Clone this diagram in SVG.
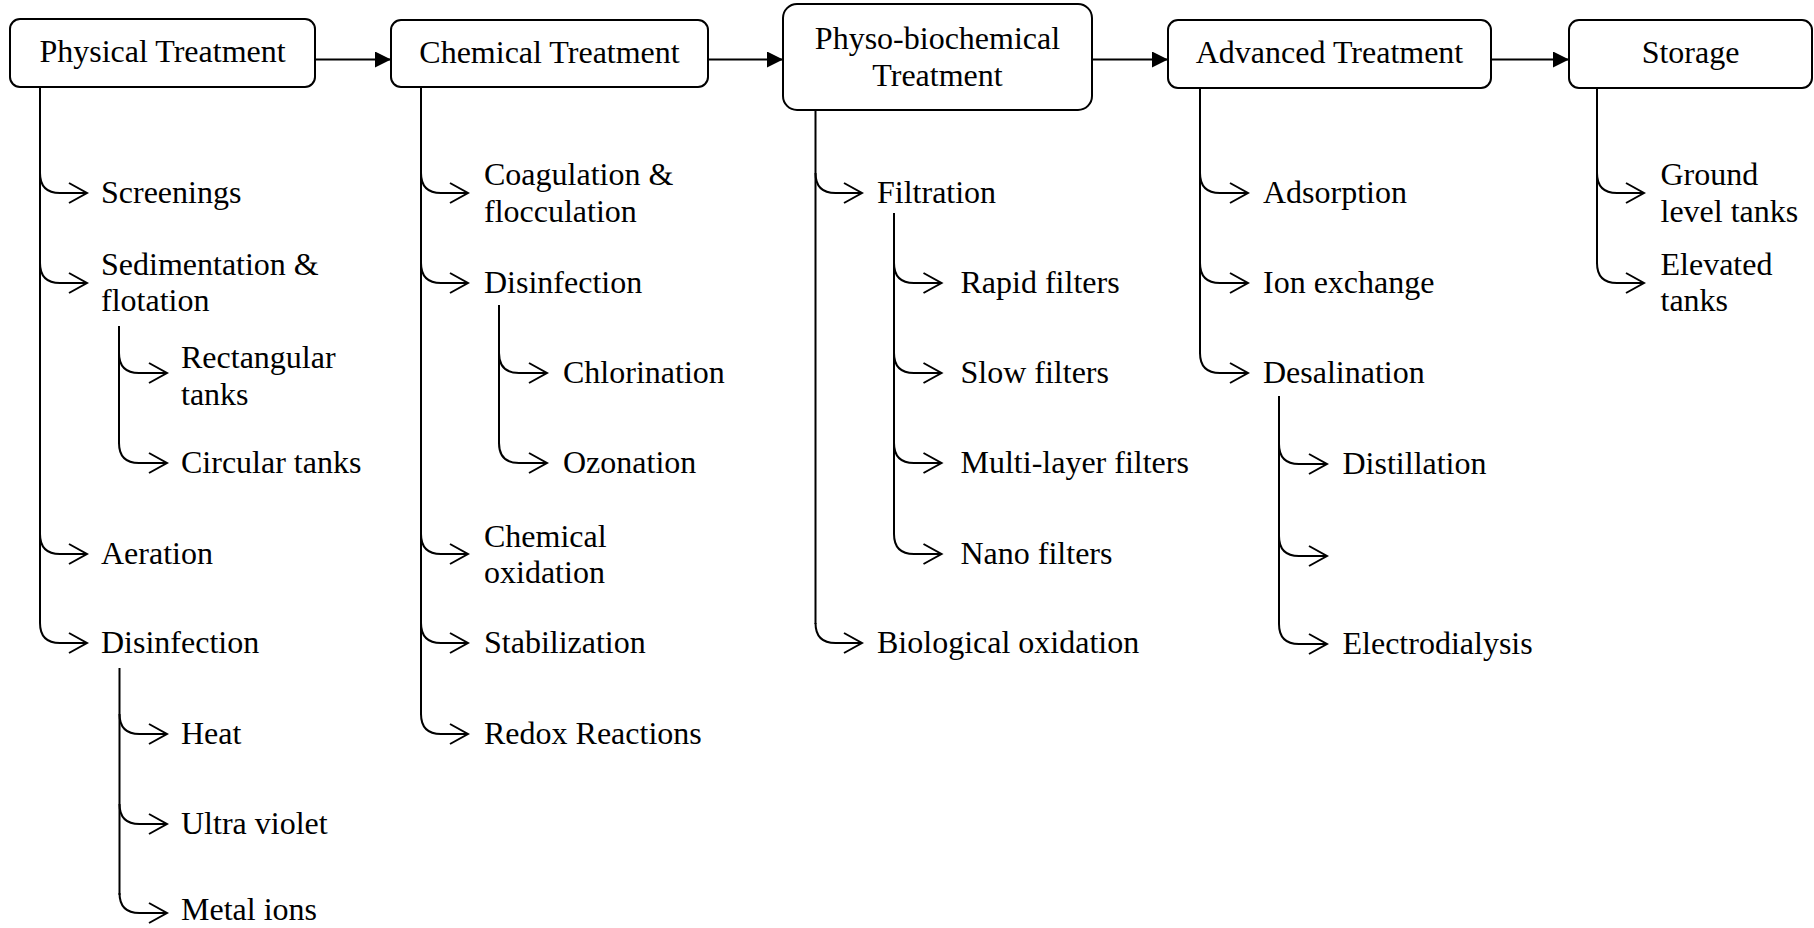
<svg xmlns="http://www.w3.org/2000/svg" width="1814" height="928" viewBox="0 0 1814 928">
<defs>
<style>
.box{fill:#fff;stroke:#000;stroke-width:2}
.t{font-family:"Liberation Serif","Times New Roman",serif;font-size:32px;fill:#000}
.c{text-anchor:middle}
.ln{fill:none;stroke:#000;stroke-width:2}
.br{fill:none;stroke:#000;stroke-width:2;marker-end:url(#open)}
.fl{fill:none;stroke:#000;stroke-width:2;marker-end:url(#solid)}
</style>
<marker id="open" markerUnits="userSpaceOnUse" markerWidth="22" markerHeight="24" refX="20" refY="12" orient="auto" viewBox="0 0 22 24">
<path d="M2,2 L20,12 L2,22" fill="none" stroke="#000" stroke-width="2"/>
</marker>
<marker id="solid" markerUnits="userSpaceOnUse" markerWidth="17" markerHeight="16" refX="16" refY="8" orient="auto" viewBox="0 0 17 16">
<path d="M0,0 L16,8 L0,16 Z" fill="#000"/>
</marker>
</defs>
<rect width="1814" height="928" fill="#fff"/>

<g id="connectors">
<line class="fl" x1="315" y1="59.5" x2="391" y2="59.5"/>
<line class="fl" x1="708" y1="59.5" x2="783" y2="59.5"/>
<line class="fl" x1="1092" y1="59.5" x2="1168" y2="59.5"/>
<line class="fl" x1="1491" y1="59.5" x2="1569" y2="59.5"/>

<!-- Physical -->
<line class="ln" x1="40" y1="87" x2="40" y2="623"/>
<path class="br" d="M40,173 C40,186 46,193 60,193 L87,193"/>
<path class="br" d="M40,263 C40,276 46,283 60,283 L87,283"/>
<path class="br" d="M40,534 C40,547 46,554 60,554 L87,554"/>
<path class="br" d="M40,623 C40,636 46,643 60,643 L87,643"/>
<line class="ln" x1="119" y1="326" x2="119" y2="444"/>
<path class="br" d="M119,353 C119,366 125,373 139,373 L167,373"/>
<path class="br" d="M119,443 C119,456 125,463 139,463 L167,463"/>
<line class="ln" x1="119.5" y1="668" x2="119.5" y2="895"/>
<path class="br" d="M119.5,714 C119.5,727 125.5,734 139.5,734 L167,734"/>
<path class="br" d="M119.5,804 C119.5,817 125.5,824 139.5,824 L167,824"/>
<path class="br" d="M119.5,893 C119.5,906 125.5,913 139.5,913 L167,913"/>

<!-- Chemical -->
<line class="ln" x1="421" y1="87" x2="421" y2="715"/>
<path class="br" d="M421,173 C421,186 427,193 441,193 L468,193"/>
<path class="br" d="M421,263 C421,276 427,283 441,283 L468,283"/>
<path class="br" d="M421,534 C421,547 427,554 441,554 L468,554"/>
<path class="br" d="M421,623 C421,636 427,643 441,643 L468,643"/>
<path class="br" d="M421,714 C421,727 427,734 441,734 L468,734"/>
<line class="ln" x1="499" y1="305" x2="499" y2="444"/>
<path class="br" d="M499,353 C499,366 505,373 519,373 L547,373"/>
<path class="br" d="M499,443 C499,456 505,463 519,463 L547,463"/>

<!-- Physo -->
<line class="ln" x1="815.5" y1="110" x2="815.5" y2="624"/>
<path class="br" d="M815.5,173 C815.5,186 821.5,193 835.5,193 L862,193"/>
<path class="br" d="M815.5,623 C815.5,636 821.5,643 835.5,643 L862,643"/>
<line class="ln" x1="894" y1="213" x2="894" y2="534"/>
<path class="br" d="M894,263 C894,276 900,283 914,283 L941.5,283"/>
<path class="br" d="M894,353 C894,366 900,373 914,373 L941.5,373"/>
<path class="br" d="M894,443 C894,456 900,463 914,463 L941.5,463"/>
<path class="br" d="M894,534 C894,547 900,554 914,554 L941.5,554"/>

<!-- Advanced -->
<line class="ln" x1="1200" y1="88" x2="1200" y2="354"/>
<path class="br" d="M1200,173 C1200,186 1206,193 1220,193 L1248,193"/>
<path class="br" d="M1200,263 C1200,276 1206,283 1220,283 L1248,283"/>
<path class="br" d="M1200,353 C1200,366 1206,373 1220,373 L1248,373"/>
<line class="ln" x1="1279" y1="396" x2="1279" y2="624"/>
<path class="br" d="M1279,444 C1279,457 1285,464 1299,464 L1327,464"/>
<path class="br" d="M1279,536 C1279,549 1285,556 1299,556 L1327,556"/>
<path class="br" d="M1279,624 C1279,637 1285,644 1299,644 L1327,644"/>

<!-- Storage -->
<line class="ln" x1="1597" y1="88" x2="1597" y2="264"/>
<path class="br" d="M1597,173 C1597,186 1603,193 1617,193 L1644,193"/>
<path class="br" d="M1597,263 C1597,276 1603,283 1617,283 L1644,283"/>
</g>

<g id="physical">
<rect class="box" x="10" y="19" width="305" height="68" rx="10"/>
<text class="t c" x="162.5" y="62">Physical Treatment</text>
</g>
<g id="chemical">
<rect class="box" x="391" y="20" width="317" height="67" rx="10"/>
<text class="t c" x="549.5" y="62.5">Chemical Treatment</text>
</g>
<g id="physo">
<rect class="box" x="783" y="4" width="309" height="106" rx="14"/>
<text class="t c" x="937.5" y="49">Physo-biochemical</text>
<text class="t c" x="937.5" y="86">Treatment</text>
</g>
<g id="advanced">
<rect class="box" x="1168" y="20" width="323" height="68" rx="10"/>
<text class="t c" x="1329.5" y="62.5">Advanced Treatment</text>
</g>
<g id="storage">
<rect class="box" x="1569" y="20" width="243" height="68" rx="10"/>
<text class="t c" x="1690.5" y="62.5">Storage</text>
</g>

<g id="physical-items">
<text class="t" x="101" y="203">Screenings</text>
<text class="t" x="101" y="274.5">Sedimentation &amp;</text>
<text class="t" x="101" y="311">flotation</text>
<text class="t" x="181" y="368">Rectangular</text>
<text class="t" x="181" y="404.5">tanks</text>
<text class="t" x="181" y="473">Circular tanks</text>
<text class="t" x="101" y="563.5">Aeration</text>
<text class="t" x="101" y="653">Disinfection</text>
<text class="t" x="181" y="744">Heat</text>
<text class="t" x="181" y="834">Ultra violet</text>
<text class="t" x="181" y="920">Metal ions</text>
</g>

<g id="chemical-items">
<text class="t" x="484" y="185">Coagulation &amp;</text>
<text class="t" x="484" y="221.5">flocculation</text>
<text class="t" x="484" y="292.5">Disinfection</text>
<text class="t" x="563" y="382.5">Chlorination</text>
<text class="t" x="563" y="473">Ozonation</text>
<text class="t" x="484" y="546.5">Chemical</text>
<text class="t" x="484" y="583">oxidation</text>
<text class="t" x="484" y="653">Stabilization</text>
<text class="t" x="484" y="744">Redox Reactions</text>
</g>

<g id="physo-items">
<text class="t" x="877" y="203">Filtration</text>
<text class="t" x="960.5" y="292.5">Rapid filters</text>
<text class="t" x="960.5" y="382.5">Slow filters</text>
<text class="t" x="960.5" y="473">Multi-layer filters</text>
<text class="t" x="960.5" y="563.5">Nano filters</text>
<text class="t" x="877" y="653">Biological oxidation</text>
</g>

<g id="advanced-items">
<text class="t" x="1263" y="203">Adsorption</text>
<text class="t" x="1263" y="292.5">Ion exchange</text>
<text class="t" x="1263" y="382.5">Desalination</text>
<text class="t" x="1342.5" y="474">Distillation</text>
<text class="t" x="1342.5" y="654">Electrodialysis</text>
</g>

<g id="storage-items">
<text class="t" x="1660.5" y="184.5">Ground</text>
<text class="t" x="1660.5" y="221.5">level tanks</text>
<text class="t" x="1660.5" y="274.5">Elevated</text>
<text class="t" x="1660.5" y="311">tanks</text>
</g>
</svg>
